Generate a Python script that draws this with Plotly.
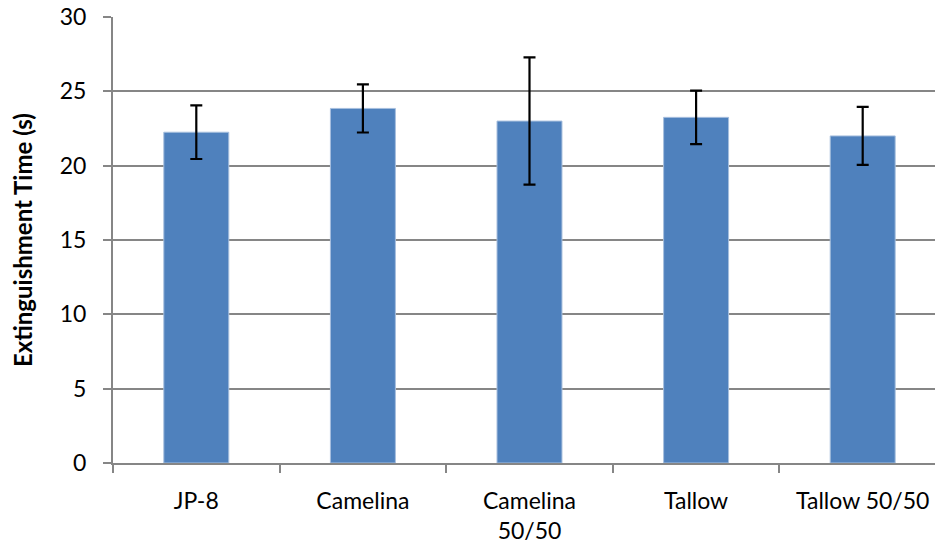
import plotly.graph_objects as go

categories = ["JP-8", "Camelina", "Camelina<br>50/50", "Tallow", "Tallow 50/50"]
means = [22.25, 23.85, 23.0, 23.25, 22.0]
errors = [1.8, 1.62, 4.28, 1.8, 1.95]
y_ticks = [0, 5, 10, 15, 20, 25, 30]

font_family = "Lato, 'Open Sans', sans-serif"

fig = go.Figure(go.Bar(
    x=categories, y=means,
    marker=dict(color="#4F81BD", line=dict(color="#A7BFDE", width=1)),
    width=0.39,
    error_y=dict(type="data", array=errors, color="black", thickness=2.2, width=6),
))

fig.update_layout(
    width=935, height=556,
    paper_bgcolor="white", plot_bgcolor="white",
    margin=dict(l=113, r=0, t=17, b=93),
    font=dict(family=font_family, size=23, color="black"),
    showlegend=False,
)
fig.update_xaxes(
    type="category",
    range=[-0.5, 4.434],
    showline=True, linecolor="#868686", linewidth=2,
    ticks="outside", tickson="boundaries", ticklen=8, tickcolor="#868686", tickwidth=2,
    ticklabelstandoff=16,
    showgrid=False,
    tickfont=dict(size=23),
)
fig.update_yaxes(
    range=[0, 30], tickvals=y_ticks,
    showline=True, linecolor="#868686", linewidth=2,
    ticks="outside", ticklen=8, tickcolor="#868686", tickwidth=2,
    showgrid=True, gridcolor="#868686", gridwidth=2,
    zeroline=False,
    ticklabelstandoff=12,
    tickfont=dict(size=23),
    title=dict(text="<b>Extinguishment Time (s)</b>", font=dict(size=24), standoff=20),
)

fig.write_html(
    "out.html",
    config={"displayModeBar": False},
    post_script="document.body.style.margin='0';document.body.style.padding='0';window.dispatchEvent(new Event('resize'));",
)
